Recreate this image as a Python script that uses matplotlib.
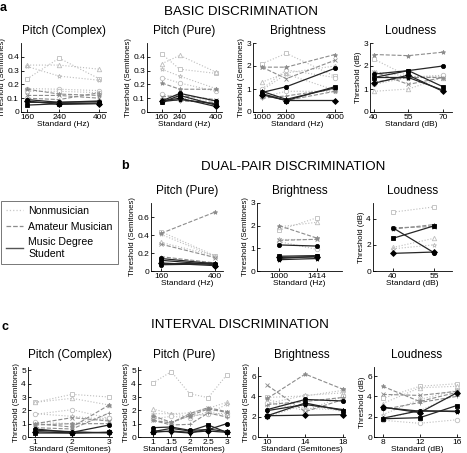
import matplotlib
matplotlib.use("Agg")
import matplotlib.pyplot as plt
from matplotlib.lines import Line2D
from matplotlib.ticker import NullLocator

plt.rcParams["font.family"] = ["Liberation Sans", "DejaVu Sans"]

# ---- data: thresholds per subject, grouped -------------------------------
# row a: basic discrimination
a_pc_x = [160, 240, 400]
a_pc_non = [[0.24, 0.39, 0.24], [0.34, 0.34, 0.31], [0.33, 0.26, 0.23],
            [0.17, 0.165, 0.155], [0.15, 0.15, 0.14]]
a_pc_ama = [[0.165, 0.13, 0.12], [0.12, 0.12, 0.10], [0.10, 0.09, 0.14]]
a_pc_deg = [[0.09, 0.07, 0.075], [0.05, 0.06, 0.065], [0.08, 0.055, 0.06],
            [0.07, 0.07, 0.08]]

a_pp_x = [160, 240, 400]
a_pp_non = [[0.42, 0.31, 0.28], [0.35, 0.41, 0.29], [0.31, 0.26, 0.17],
            [0.25, 0.21, 0.15], [0.13, 0.10, 0.08]]
a_pp_ama = [[0.21, 0.165, 0.165], [0.11, 0.12, 0.09], [0.10, 0.08, 0.07]]
a_pp_deg = [[0.08, 0.135, 0.08], [0.07, 0.12, 0.05], [0.08, 0.10, 0.04],
            [0.075, 0.09, 0.06]]

a_br_x = [1000, 2000, 4000]
a_br_non = [[2.1, 2.55, 1.55], [1.3, 1.7, 2.0], [0.95, 1.65, 0.95],
            [1.0, 1.83, 1.5], [0.65, 0.9, 0.9]]
a_br_ama = [[1.95, 1.95, 2.5], [1.95, 1.45, 2.25], [0.6, 0.7, 1.0], [0.75, 0.5, 0.9]]
a_br_deg = [[0.85, 1.1, 1.9], [0.8, 0.5, 1.1], [0.75, 0.5, 0.5], [0.9, 0.55, 1.05]]

a_ld_x = [40, 55, 70]
a_ld_non = [[2.3, 1.55, 1.5], [0.9, 1.0, 1.5], [1.75, 1.55, 1.55], [1.2, 1.5, 1.6]]
a_ld_ama = [[2.5, 2.45, 2.6], [1.75, 1.2, 1.5], [1.3, 1.5, 1.5]]
a_ld_deg = [[1.65, 1.8, 2.0], [1.5, 1.8, 1.1], [1.25, 1.6, 0.9], [1.5, 1.5, 0.95]]

# row b: dual-pair discrimination
b_pp_x = [160, 400]
b_pp_non = [[0.44, 0.17], [0.32, 0.17], [0.41, 0.16]]
b_pp_ama = [[0.42, 0.66], [0.30, 0.15], [0.16, 0.09]]
b_pp_deg = [[0.14, 0.08], [0.12, 0.07], [0.09, 0.06], [0.08, 0.09], [0.07, 0.08]]

b_br_x = [1000, 1414]
b_br_non = [[1.8, 2.35], [1.95, 2.15], [1.4, 1.4], [1.3, 0.95]]
b_br_ama = [[2.0, 1.45], [1.35, 1.4]]
b_br_deg = [[1.15, 1.1], [0.65, 0.68], [0.6, 0.62], [0.5, 0.55], [0.55, 0.65]]

b_ld_x = [40, 55]
b_ld_non = [[4.5, 4.9], [1.8, 2.5], [1.7, 2.0]]
b_ld_ama = [[3.2, 3.55], [3.3, 3.4]]
b_ld_deg = [[3.3, 1.4], [2.5, 3.45], [1.35, 1.45]]

# row c: interval discrimination
c_pc_x = [1, 2, 3]
c_pc_non = [[2.6, 3.2, 3.0], [2.6, 2.9, 2.4], [1.75, 1.55, 1.3],
            [1.7, 2.05, 1.4], [1.1, 1.0, 1.45]]
c_pc_ama = [[1.0, 0.75, 2.4], [1.0, 1.45, 1.2], [0.7, 0.6, 1.8], [0.9, 1.0, 1.0]]
c_pc_deg = [[0.6, 0.35, 0.9], [0.3, 0.3, 0.35], [0.4, 0.3, 0.35], [0.5, 0.4, 0.3]]

c_pp_x = [1, 1.5, 2, 2.5, 3]
c_pp_non = [[4.05, 4.9, 3.25, 2.95, 4.65], [2.1, 1.75, 1.8, 2.15, 2.6],
            [1.75, 1.75, 1.55, 1.75, 2.45], [1.35, 1.55, 1.45, 1.9, 1.6],
            [1.5, 1.05, 1.6, 1.7, 1.8]]
c_pp_ama = [[1.6, 1.1, 1.6, 2.1, 1.85], [1.25, 1.05, 1.75, 2.2, 1.9],
            [1.25, 0.9, 0.95, 1.8, 1.5]]
c_pp_deg = [[0.7, 0.75, 0.5, 0.55, 1.0], [0.4, 0.65, 0.45, 0.9, 0.35],
            [0.35, 0.45, 0.35, 0.45, 0.35], [0.45, 0.4, 0.3, 0.6, 0.4]]

c_br_x = [10, 14, 18]
c_br_non = [[3.9, 4.05, 4.6], [3.3, 4.1, 4.35], [3.7, 2.8, 2.7],
            [2.0, 3.2, 2.5], [3.4, 2.6, 4.0]]
c_br_ama = [[3.8, 6.2, 4.7], [5.1, 2.5, 3.7], [3.2, 3.5, 3.9]]
c_br_deg = [[2.7, 3.7, 3.55], [2.1, 3.35, 2.6], [2.1, 2.15, 2.2], [2.6, 3.2, 2.7]]

c_ld_x = [8, 12, 16]
c_ld_non = [[3.8, 5.0, 5.25], [3.3, 4.85, 5.0], [2.2, 3.7, 4.6],
            [1.65, 1.35, 1.7], [1.8, 2.6, 4.2]]
c_ld_ama = [[5.0, 3.5, 4.4], [4.2, 4.1, 4.5], [2.7, 3.4, 4.0]]
c_ld_deg = [[2.9, 2.55, 2.55], [1.8, 1.9, 3.1], [2.95, 2.4, 4.35], [1.85, 2.6, 2.5]]

# ---- styles ---------------------------------------------------------------
C_NON, C_AMA, C_DEG = "#bdbdbd", "#8c8c8c", "#262626"
M_NON = ["s", "^", "*", "o", "o"]
M_AMA = ["*", "x", "+", "*"]
M_DEG = ["o", "s", "D", "*", "o"]

W, H = 467, 453
fig = plt.figure(figsize=(W / 100, H / 100), dpi=100)


def make_ax(l, r, t, b):
    ax = fig.add_axes([l / W, 1 - b / H, (r - l) / W, (b - t) / H])
    for s in ("top", "right"):
        ax.spines[s].set_visible(False)
    for s in ("left", "bottom"):
        ax.spines[s].set_linewidth(0.6)
    ax.tick_params(direction="in", length=2, width=0.6, labelsize=6, pad=1.5)
    return ax


def draw(ax, x, non, ama, deg):
    for i, y in enumerate(non):
        ax.plot(x, y, ls=":", lw=0.8, color=C_NON, marker=M_NON[i % len(M_NON)],
                ms=3.2, mfc="white", mec=C_NON, mew=0.6, clip_on=False)
    for i, y in enumerate(ama):
        ax.plot(x, y, ls="--", lw=0.8, color=C_AMA, marker=M_AMA[i % len(M_AMA)],
                ms=3.2, mfc=C_AMA, mec=C_AMA, mew=0.6, clip_on=False)
    for i, y in enumerate(deg):
        ax.plot(x, y, ls="-", lw=0.9, color=C_DEG, marker=M_DEG[i % len(M_DEG)],
                ms=3, mfc="black", mec="black", mew=0.6, clip_on=False)


def finish(ax, title, xlim, xticks, xlab, ylim, yticks, ylab, ytl=None):
    ax.set_xlim(*xlim)
    ax.set_xticks(xticks)
    ax.set_xticklabels([f"{t:g}" for t in xticks])
    ax.xaxis.set_minor_locator(NullLocator())
    ax.set_ylim(*ylim)
    ax.set_yticks(yticks)
    ax.set_yticklabels(ytl if ytl else [f"{t:g}" for t in yticks])
    ax.set_title(title, fontsize=8.5, pad=6.5)
    ax.set_xlabel(xlab, fontsize=6, labelpad=0)
    ax.set_ylabel(ylab, fontsize=5.6, labelpad=1)


SEMI = "Threshold (Semitones)"
DB = "Threshold (dB)"
p01 = ["0", "0.1", "0.2", "0.3", "0.4"]

# row a
ax = make_ax(21, 106, 43, 112)
ax.set_xscale("log")
draw(ax, a_pc_x, a_pc_non, a_pc_ama, a_pc_deg)
finish(ax, "Pitch (Complex)", (148, 435), a_pc_x, "Standard (Hz)", (0, 0.5),
       [0, 0.1, 0.2, 0.3, 0.4], SEMI, p01)

ax = make_ax(147, 222, 43, 112)
draw(ax, a_pp_x, a_pp_non, a_pp_ama, a_pp_deg)
finish(ax, "Pitch (Pure)", (94, 428), a_pp_x, "Standard (Hz)", (0, 0.5),
       [0, 0.1, 0.2, 0.3, 0.4], SEMI, p01)

ax = make_ax(253, 342, 43, 112)
draw(ax, a_br_x, a_br_non, a_br_ama, a_br_deg)
finish(ax, "Brightness", (630, 4290), a_br_x, "Standard (Hz)", (0, 3),
       [0, 1, 2, 3], SEMI)

ax = make_ax(370, 452, 43, 112)
draw(ax, a_ld_x, a_ld_non, a_ld_ama, a_ld_deg)
finish(ax, "Loudness", (38.3, 74), a_ld_x, "Standard (dB)", (0, 3),
       [0, 1, 2, 3], DB)

# row b
ax = make_ax(151, 223, 203, 271)
draw(ax, b_pp_x, b_pp_non, b_pp_ama, b_pp_deg)
finish(ax, "Pitch (Pure)", (116, 434), b_pp_x, "Standard (Hz)", (0, 0.76),
       [0, 0.2, 0.4, 0.6], SEMI, ["0", "0.2", "0.4", "0.6"])

ax = make_ax(257, 342, 203, 271)
draw(ax, b_br_x, b_br_non, b_br_ama, b_br_deg)
finish(ax, "Brightness", (760, 1686), b_br_x, "Standard (Hz)", (0, 3),
       [0, 1, 2, 3], SEMI)

ax = make_ax(373, 452, 203, 271)
draw(ax, b_ld_x, b_ld_non, b_ld_ama, b_ld_deg)
finish(ax, "Loudness", (32.7, 61.6), b_ld_x, "Standard (dB)", (0, 5.2),
       [0, 2, 4], DB)

# row c
ax = make_ax(28, 112, 367, 437)
draw(ax, c_pc_x, c_pc_non, c_pc_ama, c_pc_deg)
finish(ax, "Pitch (Complex)", (0.81, 3.08), c_pc_x, "Standard (Semitones)",
       (0, 5.25), [0, 1, 2, 3, 4, 5], SEMI)

ax = make_ax(138, 230, 367, 437)
draw(ax, c_pp_x, c_pp_non, c_pp_ama, c_pp_deg)
finish(ax, "Pitch (Pure)", (0.6, 3.09), c_pp_x, "Standard (Semitones)",
       (0, 5.25), [0, 1, 2, 3, 4, 5], SEMI)

ax = make_ax(258, 345, 367, 437)
draw(ax, c_br_x, c_br_non, c_br_ama, c_br_deg)
finish(ax, "Brightness", (9.02, 18.2), c_br_x, "Standard (Semitones)",
       (0, 6.9), [0, 2, 4, 6], SEMI)

ax = make_ax(374, 460, 367, 437)
draw(ax, c_ld_x, c_ld_non, c_ld_ama, c_ld_deg)
finish(ax, "Loudness", (7.06, 16.36), c_ld_x, "Standard (dB)",
       (0, 6.9), [0, 2, 4, 6], DB)

# section headings and panel letters
for (x, y), txt in [((241, 12), "BASIC DISCRIMINATION"),
                    ((293, 167), "DUAL-PAIR DISCRIMINATION"),
                    ((240, 325), "INTERVAL DISCRIMINATION")]:
    fig.text(x / W, 1 - y / H, txt, ha="center", va="center", fontsize=9.6)
for (x, y), txt in [((3, 8), "a"), ((125, 166), "b"), ((5, 327), "c")]:
    fig.text(x / W, 1 - y / H, txt, ha="center", va="center", fontsize=9,
             fontweight="bold")

# legend
handles = [Line2D([], [], ls=":", lw=0.9, color="#c8c8c8"),
           Line2D([], [], ls="--", lw=0.9, color=C_AMA),
           Line2D([], [], ls="-", lw=1.0, color="#555555")]
leg = fig.legend(handles, ["Nonmusician", "Amateur Musician", "Music Degree\nStudent"],
                 loc="upper left", bbox_to_anchor=(1 / W, 1 - 201 / H), fontsize=7.6,
                 frameon=True, fancybox=False, handlelength=1.6, borderpad=0.45,
                 labelspacing=0.55, handletextpad=0.55, borderaxespad=0)
leg.get_frame().set_edgecolor("#555555")
leg.get_frame().set_linewidth(0.7)

fig.savefig("out.png", dpi=100, facecolor="white")
